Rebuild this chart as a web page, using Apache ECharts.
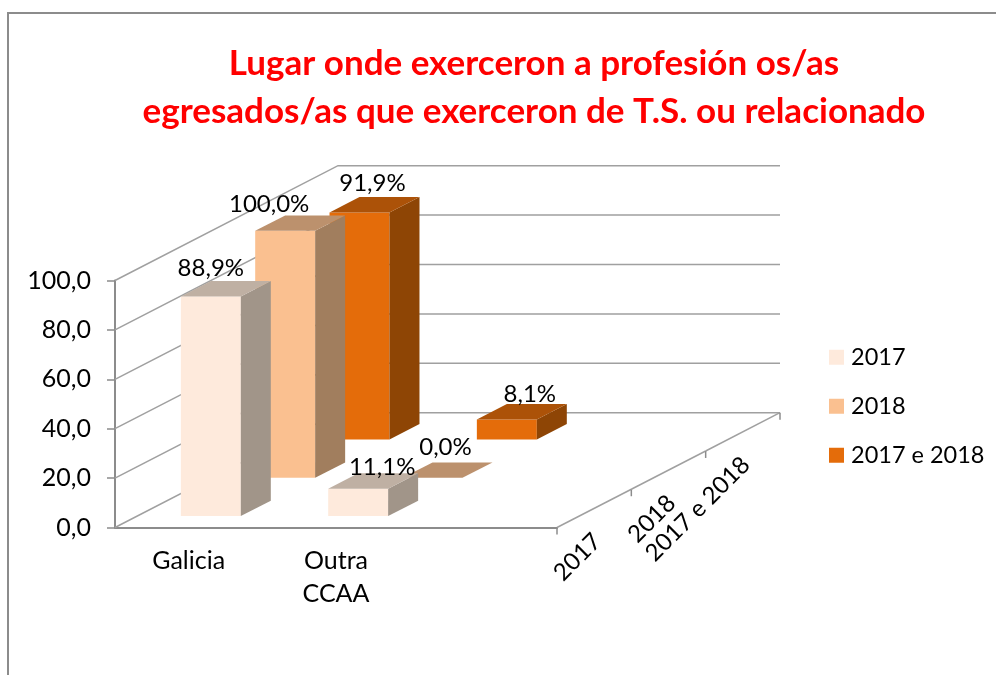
<!DOCTYPE html>
<html>
<head>
<meta charset="utf-8">
<title>Lugar onde exerceron a profesión</title>
<script src="https://cdn.jsdelivr.net/npm/echarts@6/dist/echarts.min.js"></script>
<style>
    html, body { margin: 0; padding: 0; background: #fff; }
    #chart { width: 996px; height: 675px; }
</style>
</head>
<body>
<div id="chart"></div>
<script>
/** Datos da gráfica */
const categories = ["Galicia", "Outra\nCCAA", ""]
const rowNames = ["2017", "2018", "2017 e 2018"]
const values2017 = [88.9, 11.1, null]
const values2018 = [100.0, 0.0, null]
const values2017e2018 = [91.9, 8.1, null]
const wallTicks = [0, 20, 40, 60, 80, 100]

/** Front, side and top colours of each row */
const rowColors = [
    { front: "#FEEADC", side: "#A19589", top: "#BFB0A3" },
    { front: "#FAC090", side: "#A17E5E", top: "#BC916D" },
    { front: "#E46C0A", side: "#8E4505", top: "#AC5208" }
]

/** Hand placed label nudges, same order as the rows: [dx, dy] from the front top centre */
const labelNudges = [
    [[0, -28], [24, -21]],
    [[-16, -27], [13, -31]],
    [[13, -29], [23, -25]]
]

const FONT = "Lato"
const AXIS_COLOR = "#8C8C8C"
const DEPTH_X = 223     // floor depth projected on the screen
const DEPTH_Y = 114.8
const BAR_RATIO = 0.407 // bar width / band width
const BAR_DEPTH = 0.1345 // bar depth / floor depth

function formatNumber(value){
    return value.toFixed(1).replace(".", ",")
}

/** One 3D looking box for a row of the depth axis */
function renderBox(row){
    return function(params, api){
        let cat = api.value(0)
        let value = api.value(1)
        let base = api.coord([cat, 0])
        let head = api.coord([cat, value])
        let w = api.size([1, 0])[0] * BAR_RATIO
        let f = (row + 0.5) / rowNames.length - BAR_DEPTH / 2
        let x0 = base[0] - w / 2 + DEPTH_X * f
        let x1 = x0 + w
        let yb = base[1] - DEPTH_Y * f
        let yt = head[1] - DEPTH_Y * f
        let dx = DEPTH_X * BAR_DEPTH
        let dy = DEPTH_Y * BAR_DEPTH
        let colors = rowColors[row]
        let children = []
        if(value > 0){
            children.push({ type: "polygon", shape: { points: [[x0, yb], [x1, yb], [x1, yt], [x0, yt]] }, style: { fill: colors.front } })
            children.push({ type: "polygon", shape: { points: [[x1, yb], [x1 + dx, yb - dy], [x1 + dx, yt - dy], [x1, yt]] }, style: { fill: colors.side } })
        }
        children.push({ type: "polygon", shape: { points: [[x0, yt], [x1, yt], [x1 + dx, yt - dy], [x0 + dx, yt - dy]] }, style: { fill: colors.top } })
        let nudge = labelNudges[row][cat]
        children.push({
            type: "text",
            style: {
                x: (x0 + x1) / 2 + nudge[0],
                y: yt + nudge[1],
                text: formatNumber(value) + "%",
                fill: "#000",
                font: "24px " + FONT,
                align: "center",
                verticalAlign: "middle"
            }
        })
        return { type: "group", children: children }
    }
}

/** Back wall lines, one per value tick */
function renderWall(params, api){
    let y = api.coord([0, api.value(1)])[1]
    let left = params.coordSys.x
    let right = left + params.coordSys.width
    return {
        type: "polyline",
        shape: { points: [[left, y], [left + DEPTH_X, y - DEPTH_Y], [right + DEPTH_X, y - DEPTH_Y]] },
        style: { fill: null, stroke: "#A0A0A0", lineWidth: 1.5 }
    }
}

/** Floor edge on the right: the depth axis with its ticks and labels */
function renderDepth(params, api){
    let row = api.value(1)
    let startX = params.coordSys.x + params.coordSys.width
    let startY = api.coord([0, 0])[1]
    let stepX = DEPTH_X / rowNames.length
    let stepY = DEPTH_Y / rowNames.length
    let x1 = startX + stepX * row
    let y1 = startY - stepY * row
    let x2 = x1 + stepX
    let y2 = y1 - stepY
    let children = [
        { type: "line", shape: { x1: x1, y1: y1, x2: x2, y2: y2 }, style: { stroke: "#A0A0A0", lineWidth: 1.5 } },
        { type: "line", shape: { x1: x2, y1: y2, x2: x2, y2: y2 + 7 }, style: { stroke: AXIS_COLOR, lineWidth: 1.5 } },
        {
            type: "text",
            x: (x1 + x2) / 2 + 3,
            y: (y1 + y2) / 2 + 29,
            rotation: Math.PI / 4,
            style: {
                text: rowNames[row],
                fill: "#000",
                font: "24px " + FONT,
                align: "right",
                verticalAlign: "middle"
            }
        }
    ]
    if(row === 0){
        children.push({ type: "line", shape: { x1: x1, y1: y1, x2: x1, y2: y1 + 7 }, style: { stroke: AXIS_COLOR, lineWidth: 1.5 } })
    }
    return { type: "group", children: children }
}

function boxData(values){
    return values.map((v, i) => [i, v]).filter(d => d[1] !== null)
}

function getBoxSeries(row, values){
    return {
        name: rowNames[row],
        type: "custom",
        z: 5 - row,
        renderItem: renderBox(row),
        encode: { x: 0, y: 1 },
        itemStyle: { color: rowColors[row].front },
        data: boxData(values)
    }
}

let chart = echarts.init(document.getElementById("chart"))

chart.setOption({
    animation: false,
    backgroundColor: "#fff",
    textStyle: { fontFamily: FONT },
    title: {
        text: "Lugar onde exerceron a profesión os/as\negresados/as que exerceron de T.S. ou relacionado",
        left: 529,
        top: 35,
        textAlign: "center",
        textStyle: {
            color: "#FF0000",
            fontFamily: FONT,
            fontWeight: "bold",
            fontSize: 35,
            lineHeight: 48
        }
    },
    legend: {
        data: rowNames,
        orient: "vertical",
        left: 824,
        top: 339,
        icon: "rect",
        itemWidth: 15,
        itemHeight: 15,
        itemGap: 22.5,
        selectedMode: false,
        textStyle: { color: "#000", fontFamily: FONT, fontSize: 23.5, lineHeight: 26.5, padding: [0, 0, 0, 2] }
    },
    grid: { left: 115, right: 439, top: 280.5, bottom: 147.5 },
    xAxis: {
        type: "category",
        data: categories,
        axisLine: { lineStyle: { color: AXIS_COLOR, width: 2 } },
        axisTick: { length: 7, lineStyle: { color: AXIS_COLOR, width: 1.5 } },
        axisLabel: { interval: 0, color: "#000", fontFamily: FONT, fontSize: 25, lineHeight: 33, margin: 17 }
    },
    yAxis: {
        type: "value",
        min: 0,
        max: 100,
        interval: 20,
        splitLine: { show: false },
        axisLine: { show: true, lineStyle: { color: AXIS_COLOR, width: 2 } },
        axisTick: { show: true, length: 8, lineStyle: { color: AXIS_COLOR, width: 1.5 } },
        axisLabel: { color: "#000", fontFamily: FONT, fontSize: 25, margin: 24, formatter: formatNumber }
    },
    graphic: [{
        type: "polyline",
        shape: { points: [[8, 675], [8, 13], [996, 13]] },
        style: { fill: null, stroke: "#8C8C8C", lineWidth: 2 }
    }],
    series: [
        {
            type: "custom",
            z: 1,
            silent: true,
            renderItem: renderWall,
            encode: { x: 0, y: 1 },
            data: wallTicks.map(v => [0, v])
        },
        {
            type: "custom",
            z: 1,
            silent: true,
            renderItem: renderDepth,
            encode: { x: 0 },
            data: rowNames.map((n, i) => [0, i])
        },
        getBoxSeries(0, values2017),
        getBoxSeries(1, values2018),
        getBoxSeries(2, values2017e2018)
    ]
})
</script>
</body>
</html>
